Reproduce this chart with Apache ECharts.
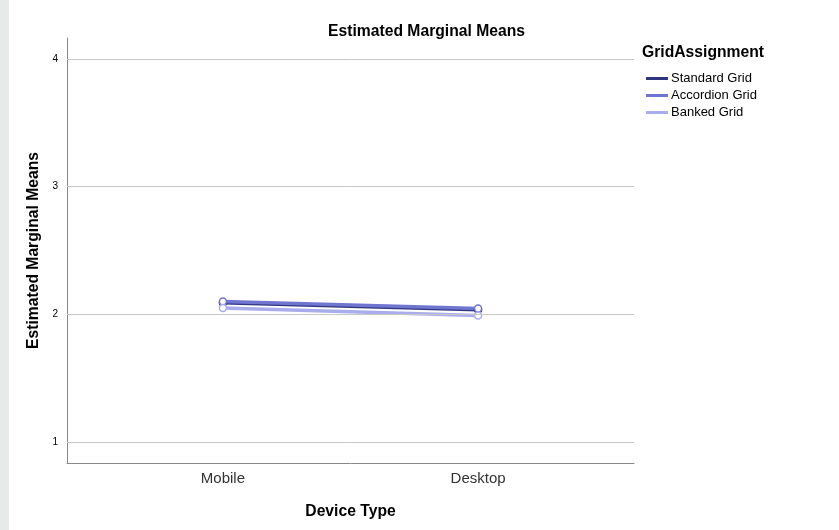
<!DOCTYPE html>
<html><head><meta charset="utf-8">
<script src="https://cdn.jsdelivr.net/npm/echarts@6/dist/echarts.min.js"></script>
<style>html,body{margin:0;padding:0;background:#fff}#c{width:839px;height:530px}</style>
</head><body><div id="c"></div>
<script>
const categories = ['Mobile', 'Desktop'];
const seriesNames = ['Standard Grid', 'Accordion Grid', 'Banked Grid'];
const standardGrid = [2.09, 2.035];
const accordionGrid = [2.10, 2.045];
const bankedGrid = [2.05, 1.99];
const yTicks = [1, 2, 3, 4];
const colors = ['#30357f', '#7075cf', '#a9adeb'];
const seriesValues = [standardGrid, accordionGrid, bankedGrid];

const chart = echarts.init(document.getElementById('c'));
const font = 'Liberation Sans, Arial, sans-serif';
chart.setOption({
  animation: false,
  backgroundColor: '#fff',
  textStyle: {fontFamily: font},
  title: [
    {text: 'Estimated Marginal Means', left: 323, top: 19,
     textStyle: {fontSize: 15.7, fontWeight: 'bold', color: '#000', fontFamily: font}},
    {text: 'GridAssignment', left: 637, top: 40,
     textStyle: {fontSize: 15.7, fontWeight: 'bold', color: '#000', fontFamily: font}}
  ],
  graphic: [{type: 'rect', shape: {x: 0, y: 0, width: 9, height: 530}, style: {fill: '#e8eae9'}, silent: true}],
  legend: {
    orient: 'vertical', left: 641, top: 67, itemWidth: 22, itemHeight: 3, itemGap: 4,
    icon: 'rect',
    itemStyle: {borderWidth: 0},
    textStyle: {fontSize: 13, color: '#000', fontFamily: font, padding: [0, 0, 0, -2]},
    data: seriesNames.map((n, i) => ({name: n, itemStyle: {color: colors[i], borderWidth: 0}}))
  },
  grid: {left: 67, right: 205, top: 38, bottom: 67},
  xAxis: {
    type: 'value', min: -0.611, max: 1.611,
    name: 'Device Type', nameLocation: 'middle', nameGap: 41,
    nameTextStyle: {fontSize: 15.7, fontWeight: 'bold', color: '#000', fontFamily: font},
    axisLine: {onZero: false, lineStyle: {color: '#888', width: 1}},
    axisTick: {show: false}, splitLine: {show: false},
    axisLabel: {
      fontSize: 15, color: '#333', margin: 8, fontFamily: font,
      customValues: [0, 1],
      formatter: v => categories[Math.round(v)] || ''
    }
  },
  yAxis: {
    type: 'value', min: 0.835, max: 4.165,
    name: 'Estimated Marginal Means', nameLocation: 'middle', nameGap: 19,
    nameTextStyle: {fontSize: 15.7, fontWeight: 'bold', color: '#000', fontFamily: font},
    axisLine: {show: true, onZero: false, lineStyle: {color: '#888', width: 1}},
    axisTick: {show: false},
    axisLabel: {fontSize: 10, color: '#000', margin: 9, customValues: yTicks, fontFamily: font},
    splitLine: {show: false}
  },
  series: seriesNames.map((n, i) => ({
    name: n, type: 'line',
    data: seriesValues[i].map((v, j) => [j, v]),
    symbol: 'circle', symbolSize: 7, showSymbol: true,
    itemStyle: {color: '#fff', borderColor: colors[i], borderWidth: 1.5},
    lineStyle: {color: colors[i], width: 3.5},
    color: colors[i],
    markLine: i === 0 ? {
      silent: true, symbol: 'none', label: {show: false},
      lineStyle: {color: '#c8c8c8', width: 1, type: 'solid'},
      data: yTicks.map(t => ({yAxis: t}))
    } : undefined
  }))
});
</script></body></html>
